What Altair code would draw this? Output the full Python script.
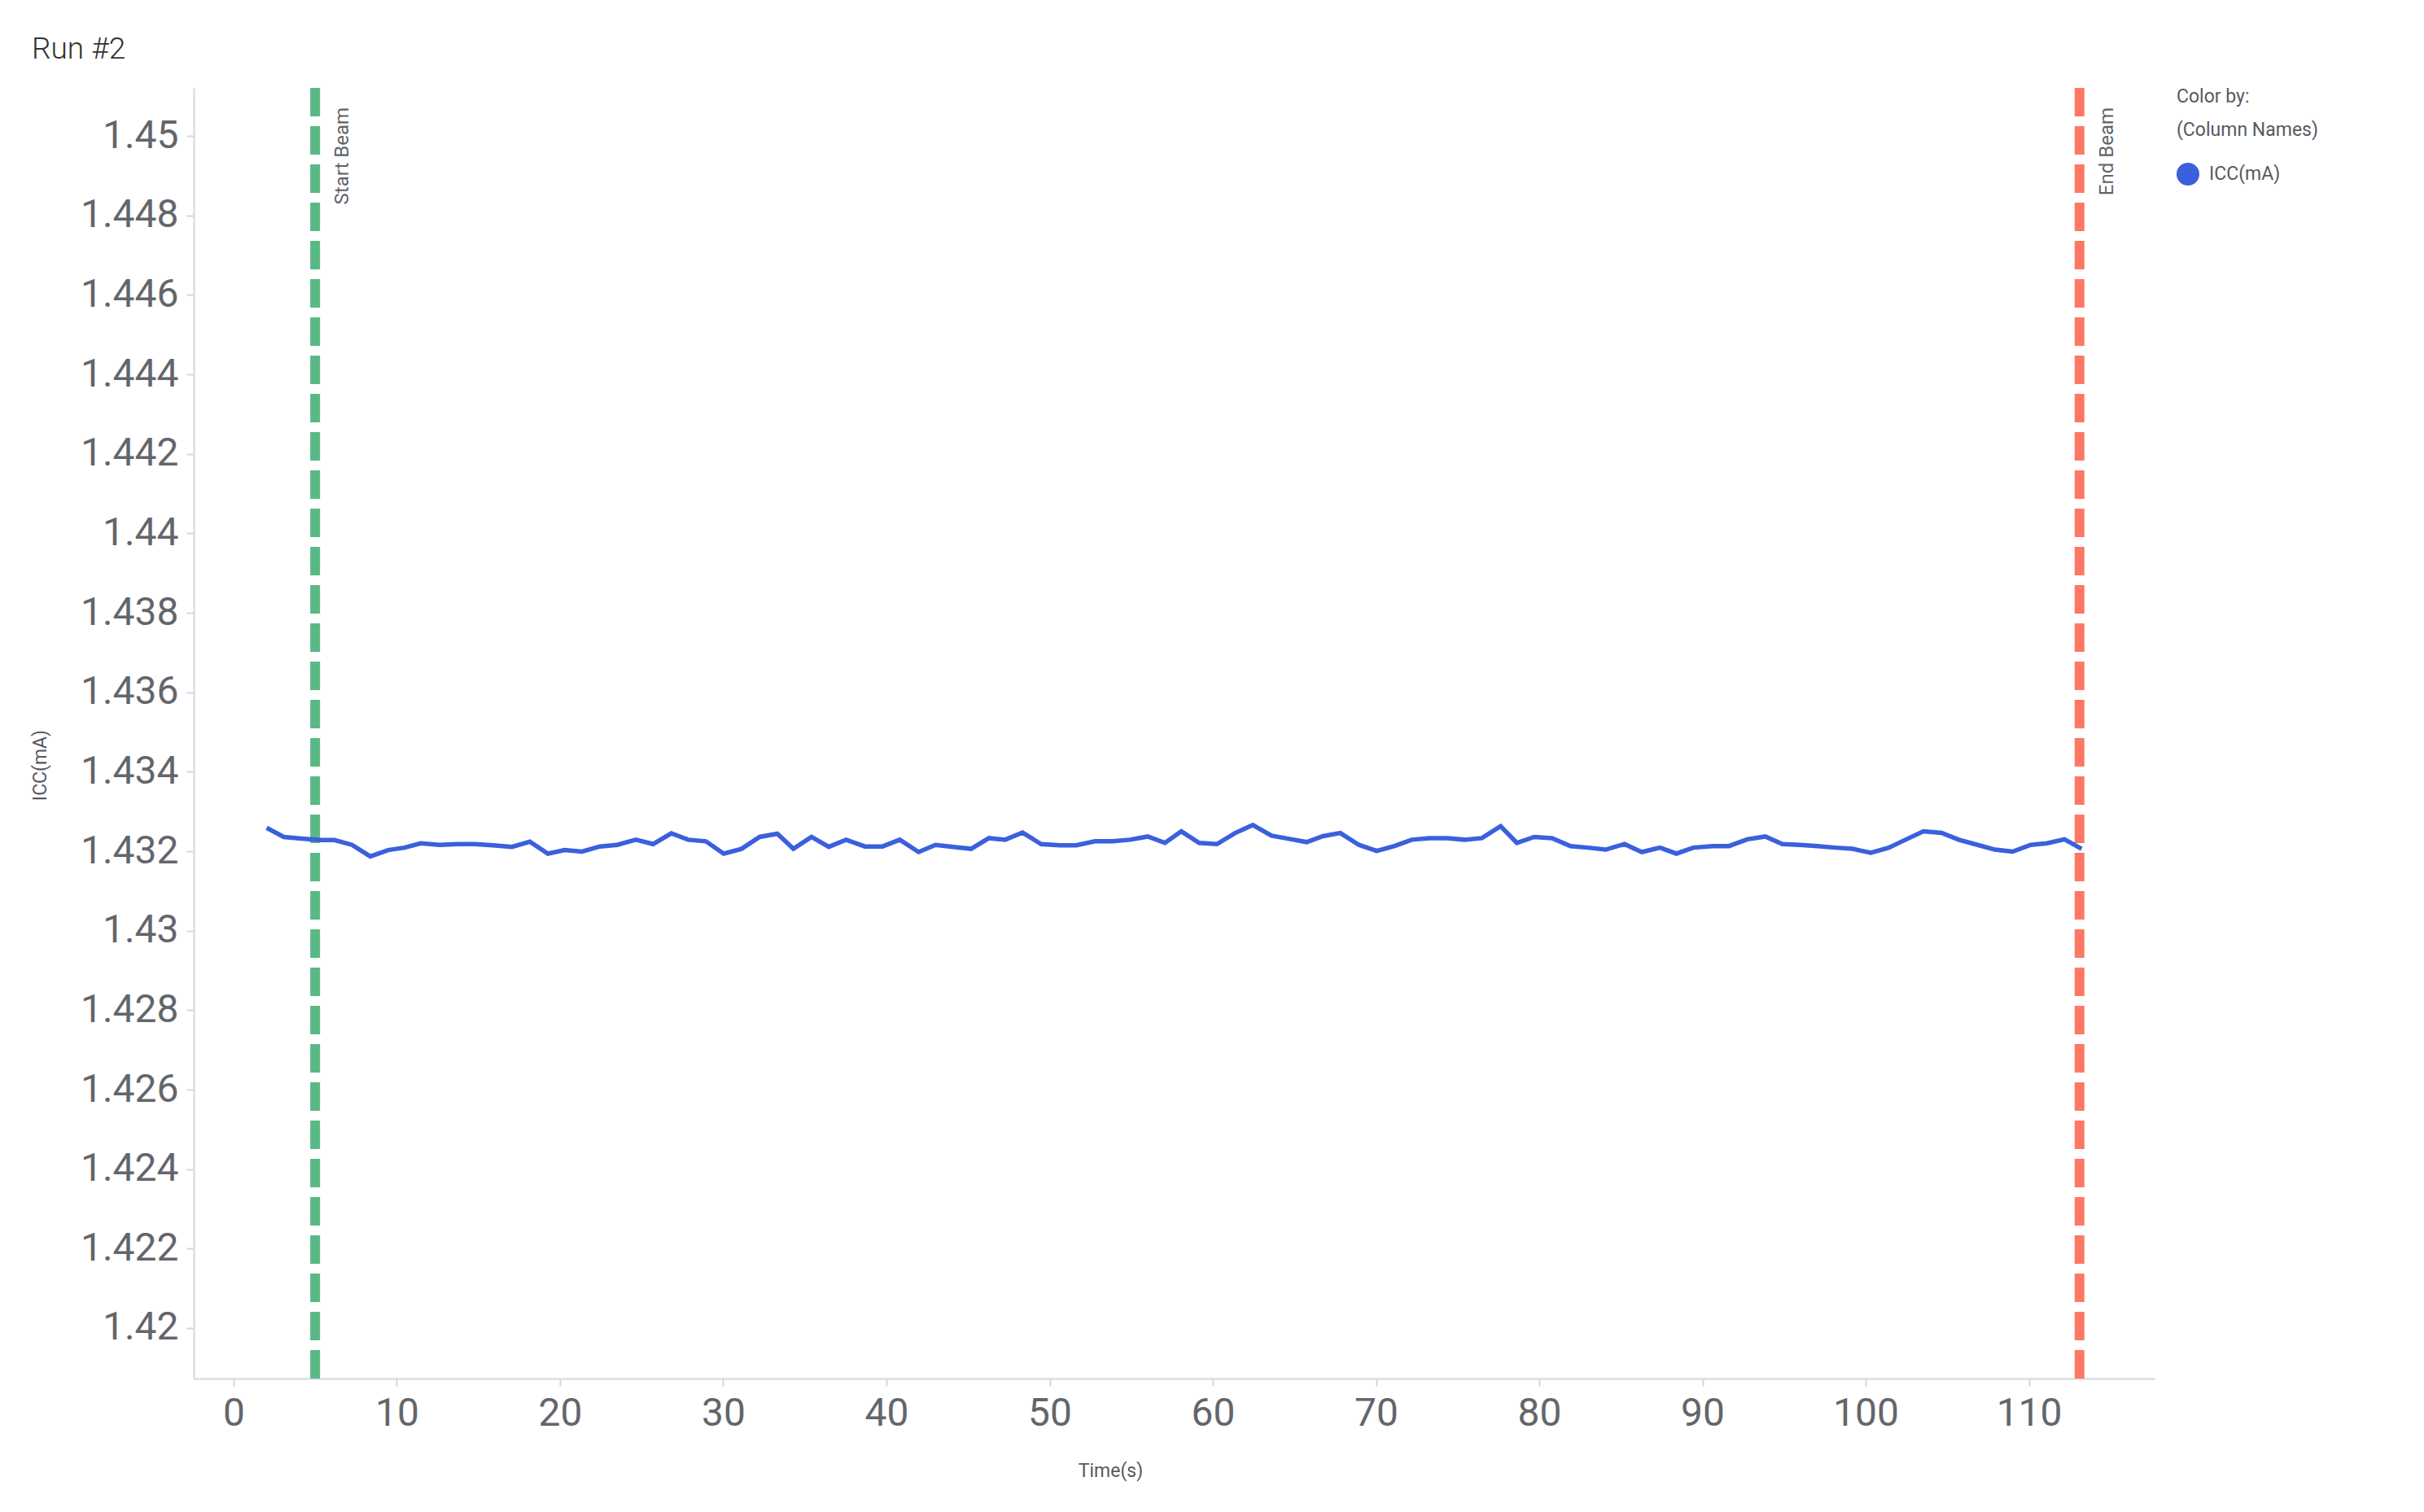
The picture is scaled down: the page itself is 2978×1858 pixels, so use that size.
import altair as alt
import pandas as pd

# ---- data ----
times = [2.03, 3.08, 4.17, 5.32, 6.18, 7.26, 8.38, 9.47, 10.47, 11.47, 12.62, 13.76, 14.77, 15.91,
         17.06, 18.15, 19.26, 20.29, 21.35, 22.44, 23.50, 24.65, 25.71, 26.82, 27.85, 28.94, 30.03,
         31.12, 32.23, 33.32, 34.30, 35.41, 36.47, 37.53, 38.68, 39.76, 40.82, 41.97,
         43.01, 44.10, 45.19, 46.28, 47.28, 48.34, 49.48, 50.63, 51.63, 52.78, 53.86, 54.92, 56.01,
         57.07, 58.07, 59.16, 60.25, 61.37, 62.45, 63.60, 64.69, 65.75, 66.75, 67.81, 68.95, 70.04,
         71.13, 72.19, 73.25, 74.28, 75.43, 76.49, 77.63, 78.63, 79.69, 80.78, 81.92, 82.98, 84.07,
         85.22, 86.28, 87.40, 88.40, 89.44, 90.62, 91.63, 92.74, 93.85, 94.90, 95.97, 97.04, 98.13,
         99.20, 100.31, 101.42, 102.49, 103.54, 104.65, 105.70, 106.77, 107.92, 109.00, 110.11,
         111.11, 112.18, 113.23]
icc_ma = [1.43259, 1.43236, 1.43232, 1.43228, 1.43228, 1.43216, 1.43187, 1.43203, 1.43209, 1.43220,
          1.43216, 1.43218, 1.43218, 1.43215, 1.43211, 1.43224, 1.43194, 1.43203, 1.43199, 1.43212,
          1.43216, 1.43229, 1.43218, 1.43245, 1.43229, 1.43225, 1.43194, 1.43206, 1.43236, 1.43244,
          1.43206, 1.43236, 1.43211, 1.43229, 1.43212, 1.43212, 1.43229, 1.43198,
          1.43216, 1.43211, 1.43206, 1.43233, 1.43229, 1.43247, 1.43218, 1.43215, 1.43215, 1.43225,
          1.43225, 1.43229, 1.43237, 1.43221, 1.43250, 1.43221, 1.43218, 1.43246, 1.43266, 1.43239,
          1.43231, 1.43223, 1.43238, 1.43246, 1.43216, 1.43201, 1.43213, 1.43229, 1.43233, 1.43233,
          1.43229, 1.43233, 1.43263, 1.43221, 1.43236, 1.43233, 1.43213, 1.43209, 1.43204, 1.43218,
          1.43198, 1.43209, 1.43194, 1.43209, 1.43213, 1.43213, 1.43230, 1.43237, 1.43218, 1.43216,
          1.43213, 1.43209, 1.43206, 1.43196, 1.43209, 1.43230, 1.43250, 1.43246, 1.43229, 1.43217,
          1.43204, 1.43199, 1.43216, 1.43220, 1.43230, 1.43206]
series_names = ["ICC(mA)"]
beam_times = [5.0, 113.1]
beam_labels = ["Start Beam", "End Beam"]
x_ticks = [0, 10, 20, 30, 40, 50, 60, 70, 80, 90, 100, 110]
y_ticks = [1.42, 1.422, 1.424, 1.426, 1.428, 1.43, 1.432, 1.434, 1.436, 1.438,
           1.44, 1.442, 1.444, 1.446, 1.448, 1.45]
x_domain = [-2.44, 117.7]
y_domain = [1.41873, 1.45121]

df = pd.DataFrame({"t": times, "v": icc_ma, "series": series_names[0]})
beams = pd.DataFrame({"t": beam_times, "label": beam_labels})

FONT = "Roboto"
BLUE = "#3a60dd"
GREEN = "#5ab884"
RED = "#fe7864"

x_scale = alt.Scale(domain=x_domain, nice=False, zero=False)
y_scale = alt.Scale(domain=y_domain, nice=False, zero=False)

x_enc = alt.X("t:Q", scale=x_scale,
              axis=alt.Axis(title="Time(s)", values=x_ticks, labelPadding=10,
                            titleX=1126, titleY=113, titleAlign="center",
                            titleBaseline="middle"))
y_enc = alt.Y("v:Q", scale=y_scale,
              axis=alt.Axis(title="ICC(mA)", values=y_ticks, format=".3~f", labelPadding=10,
                            titleAngle=270, titleX=-189, titleY=832, titleAlign="center",
                            titleBaseline="middle"))

line = alt.Chart(df).mark_line(strokeWidth=5.5).encode(
    x=x_enc,
    y=y_enc,
    color=alt.Color(
        "series:N",
        scale=alt.Scale(domain=series_names, range=[BLUE]),
        legend=alt.Legend(
            title=["Color by:", "(Column Names)"],
            orient="none", legendX=2436, legendY=0,
            symbolType="circle", symbolSize=676,
            symbolFillColor=BLUE, symbolStrokeColor="#2a4cb5", symbolStrokeWidth=2,
            labelFont=FONT, labelFontSize=23, labelColor="#555a60", labelOffset=12,
            titleFont=FONT, titleFontSize=23, titleFontWeight="normal", titleColor="#555a60",
            titleLineHeight=41, titlePadding=28,
        ),
    ),
)

rule_start = alt.Chart(beams).transform_filter(alt.datum.label == "Start Beam").mark_rule(
    color=GREEN, strokeWidth=12, strokeDash=[35, 12]
).encode(x=alt.X("t:Q", scale=x_scale), y=alt.value(0), y2=alt.value("height"))

rule_end = alt.Chart(beams).transform_filter(alt.datum.label == "End Beam").mark_rule(
    color=RED, strokeWidth=12, strokeDash=[35, 12]
).encode(x=alt.X("t:Q", scale=x_scale), y=alt.value(0), y2=alt.value("height"))

labels = alt.Chart(beams).mark_text(
    angle=270, align="right", baseline="alphabetic", dx=-24, dy=41,
    font=FONT, fontSize=24, color="#5f6368"
).encode(x=alt.X("t:Q", scale=x_scale), y=alt.value(0), text="label:N")

chart = alt.layer(rule_start, rule_end, labels, line).properties(
    width=2409,
    height=1586,
    autosize=alt.AutoSizeParams(type="none"),
    padding={"left": 230, "top": 100, "right": 300, "bottom": 140},
    title=alt.TitleParams("Run #2", anchor="start", frame="group", font=FONT, fontSize=37,
                          fontWeight=300, color="#333333", dx=-199, dy=44, offset=37,
                          baseline="alphabetic"),
).configure_view(stroke=None).configure_axis(
    grid=False,
    domainColor="#d3d6e0", domainWidth=2,
    tickColor="#d3d6e0", tickWidth=2, tickSize=9,
    labelFont=FONT, labelFontSize=48, labelColor="#63666b",
    titleFont=FONT, titleFontSize=23, titleFontWeight="normal", titleColor="#555a60",
)

chart.save("out.html", embed_options={"renderer": "svg", "actions": False})
